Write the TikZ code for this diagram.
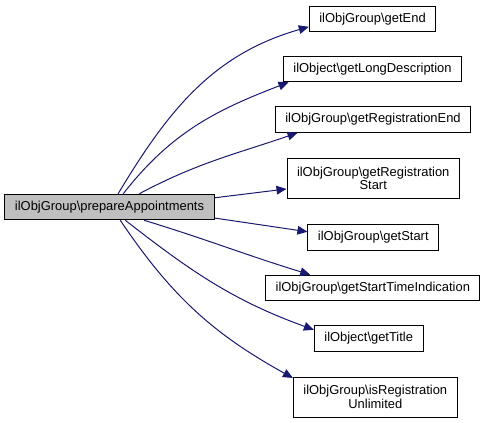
\documentclass[tikz,border=0pt]{standalone}
\usepackage{fontspec}
\setmainfont{Liberation Sans}
\usetikzlibrary{arrows.meta}
\definecolor{edgeblue}{HTML}{191970}
\definecolor{srcgray}{HTML}{BFBFBF}

\begin{document}
\begin{tikzpicture}[
        x=0.75pt, y=-0.75pt,
        box/.style={draw, fill=white, line width=0.75pt, inner xsep=7.5pt, inner ysep=0pt, minimum height=19.2pt, font=\fontsize{9.7}{10}\selectfont, align=center},
        tallbox/.style={box, minimum height=30pt},
        call/.style={draw=edgeblue, line width=0.75pt, -{Triangle[length=7.5pt,width=6.5pt]}}
      ]
        \useasboundingbox (0,0) rectangle (488,423);
        \node[box, fill=srcgray] (prep) at (109.5,207) {ilObjGroup\textbackslash prepareAppointments};
        \node[box] (getend) at (372.5,19) {ilObjGroup\textbackslash getEnd};
        \node[box] (longdesc) at (372.5,69) {ilObject\textbackslash getLongDescription};
        \node[box] (regend) at (373,119.5) {ilObjGroup\textbackslash getRegistrationEnd};
        \node[tallbox] (regstart) at (373.2,178.3) {ilObjGroup\textbackslash getRegistration\\Start};
        \node[box] (getstart) at (373.3,237.5) {ilObjGroup\textbackslash getStart};
        \node[box] (timeind) at (372.8,288) {ilObjGroup\textbackslash getStartTimeIndication};
        \node[box] (title) at (368.7,338.5) {ilObject\textbackslash getTitle};
        \node[tallbox] (unlim) at (375.3,397) {ilObjGroup\textbackslash isRegistration\\Unlimited};
        \draw[call] (prep.57) to[out=59, in=196] (getend.187);
        \draw[call] (prep.44) to[out=52, in=201] (longdesc.189.5);
        \draw[call] (prep.24.5) to[out=28, in=199] (regend.190);
        \draw[call] (prep.5.5) -- (regstart.187.6);
        \draw[call] (prep.-6.5) -- (getstart.175.3);
        \draw[call] (prep.-21) to[out=-17, in=163] (timeind.168);
        \draw[call] (prep.-40) to[out=-38, in=160] (title.171.8);
        \draw[call] (prep.-51) to[out=-56, in=151] (unlim.167);
      \end{tikzpicture}
\end{document}
